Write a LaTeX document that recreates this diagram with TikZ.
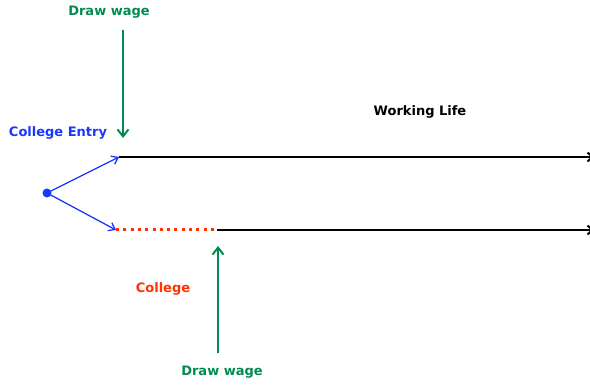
\documentclass[tikz,border=0pt]{standalone}
\usepackage{fontspec}
\setmainfont{DejaVu Sans}
\usetikzlibrary{arrows.meta}
\definecolor{entryblue}{RGB}{25,55,255}
\definecolor{wagegreen}{RGB}{0,140,80}
\definecolor{collegered}{RGB}{255,50,0}
\tikzset{
  lbl/.style={font=\fontsize{13}{15}\selectfont\bfseries, inner sep=0},
  path/.style={line width=2pt, -{Straight Barb[length=5pt,width=9pt]}},
  choice/.style={entryblue, line width=1.3pt, -{Straight Barb[length=6pt,width=9pt]}},
  wage/.style={wagegreen, line width=2pt, -{Straight Barb[length=7pt,width=11pt]}}
}
\begin{document}
\begin{tikzpicture}[x=1pt,y=-1pt]
    \useasboundingbox (0,0) rectangle (590,385);
    \coordinate (start) at (47,193);
    \coordinate (entry) at (119,157);
    \coordinate (college) at (116,230);
    \coordinate (grad) at (217,230);
    \coordinate (endtop) at (594,157);
    \coordinate (endbot) at (594,230);
    \coordinate (wagetop) at (123,30);
    \coordinate (wagetopend) at (123,138);
    \coordinate (wagebot) at (218,353);
    \coordinate (wagebotend) at (218,246);

    \node[lbl, wagegreen] (drawtop) at (109,12) {Draw wage};
    \node[lbl, entryblue] (entrylbl) at (58,133) {College Entry};
    \node[lbl] (worklbl) at (420,112) {Working Life};
    \node[lbl, collegered] (collegelbl) at (163,289) {College};
    \node[lbl, wagegreen] (drawbot) at (222,372) {Draw wage};

    \fill[entryblue] (start) circle (4.5);
    \draw[choice] (start) -- (entry);
    \draw[choice] (start) -- (college);
    \draw[path] (entry) -- (endtop);
    \draw[collegered, line width=3pt, dash pattern=on 3pt off 4.3pt] (college) -- (grad);
    \draw[path] (grad) -- (endbot);
    \draw[wage] (wagetop) -- (wagetopend);
    \draw[wage] (wagebot) -- (wagebotend);
\end{tikzpicture}
\end{document}
